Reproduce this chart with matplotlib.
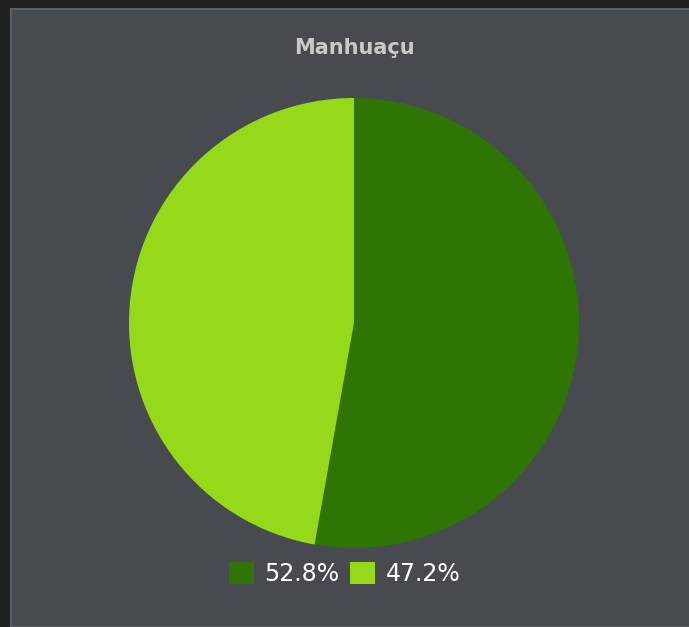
import matplotlib.pyplot as plt
from matplotlib.patches import Rectangle

titulo = "Manhuaçu"
valores = [52.8, 47.2]
etiquetas = ["52.8%", "47.2%"]
cores = ["#2e7506", "#96d81a"]

fig = plt.figure(figsize=(6.89, 6.27), dpi=100)
fig.patch.set_facecolor("#212121")

# painel cinza
painel = Rectangle((11 / 689, 0), 1.0, 1 - 9 / 627, transform=fig.transFigure,
                   facecolor="#474a4e", edgecolor="#5c5f63", linewidth=1.5, zorder=-5)
fig.patches.append(painel)

ax = fig.add_axes([0.1872, 0.126, 0.6531, 0.7177])
ax.set_zorder(2)
ax.set_facecolor("none")
wedges, _ = ax.pie(valores, colors=cores, startangle=90, counterclock=False,
                   radius=1.0, wedgeprops=dict(linewidth=0))
ax.set_xlim(-1, 1)
ax.set_ylim(-1, 1)
ax.axis("off")

fig.text(0.5138, 1 - 48 / 627, titulo, ha="center", va="center",
         fontsize=15, fontweight="bold", color="#c9c9c9", zorder=3)

ax.legend(wedges, etiquetas, ncol=2, loc="center",
          bbox_to_anchor=(0.5, 1 - 574 / 627), bbox_transform=fig.transFigure,
          frameon=False, fontsize=17, labelcolor="white",
          handlelength=1.06, handleheight=1.06, handletextpad=0.45,
          columnspacing=0.45, borderpad=0)

fig.savefig("out.png", dpi=100, facecolor=fig.get_facecolor())
